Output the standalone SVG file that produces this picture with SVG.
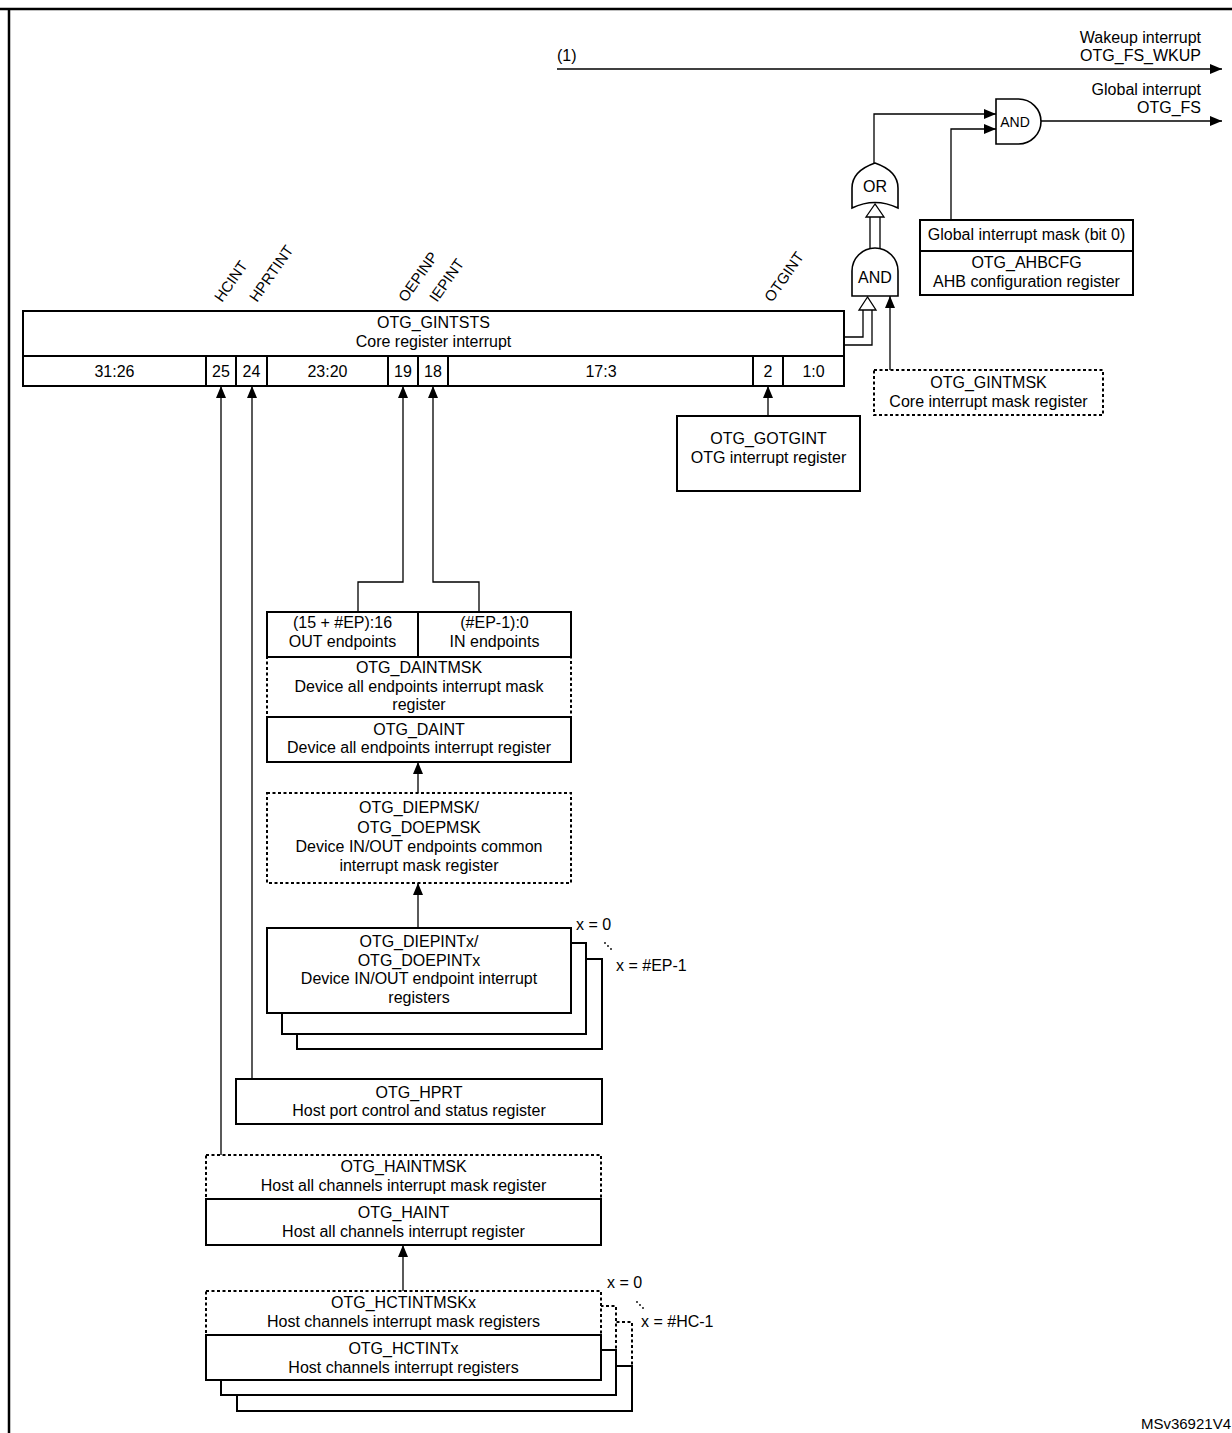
<svg xmlns="http://www.w3.org/2000/svg" width="1232" height="1433" viewBox="0 0 1232 1433">
<defs>
<marker id="ah" viewBox="0 0 12 10" refX="12" refY="5" markerWidth="12" markerHeight="10" markerUnits="userSpaceOnUse" orient="auto"><path d="M0,0 L12,5 L0,10 Z" fill="#000"/></marker>
</defs>
<style>
text{font-family:"Liberation Sans",Arial,sans-serif;font-size:16px;fill:#000}
.c{text-anchor:middle}
.r{text-anchor:end}
.rot{font-size:15px}
.box{fill:#fff;stroke:#000;stroke-width:2}
.dash{fill:#fff;stroke:#000;stroke-width:2;stroke-dasharray:3 2.5}
.ln{fill:none;stroke:#000;stroke-width:1.3}
.arr{fill:none;stroke:#000;stroke-width:1.3;marker-end:url(#ah)}
.hol{fill:#fff;stroke:#000;stroke-width:1.3}
.gate{fill:#fff;stroke:#000;stroke-width:1.6}
</style>
<rect x="0" y="0" width="1232" height="1433" fill="#fff"/>
<path d="M0,9 H1232 M9,9 V1433" stroke="#000" stroke-width="2.5" fill="none"/>

<g id="connectors">
<path class="arr" d="M557,69 H1222"/>
<path class="arr" d="M1041,121 H1222"/>
<path class="arr" d="M874,163 V114 H996"/>
<path class="arr" d="M951,220 V129 H996"/>
<path class="arr" d="M890,370 V296"/>
<path class="arr" d="M768,416 V386"/>
<path class="arr" d="M221,1155 V386"/>
<path class="arr" d="M252,1079 V386"/>
<path class="arr" d="M358,612 V582 H403 V386"/>
<path class="arr" d="M479,612 V582 H433 V386"/>
<path class="arr" d="M418,793 V762"/>
<path class="arr" d="M418,928 V883"/>
<path class="arr" d="M403,1291 V1245"/>
<path class="ln" d="M844,337 H863 V310 M844,345 H872 V310"/>
<polygon class="hol" points="867.5,297 859,310 876,310"/>
<path class="ln" d="M870,248 V217 M880,248 V217"/>
<polygon class="hol" points="875,204 866,217 884,217"/>
</g>

<g id="wakeup-label">
<text x="557" y="61">(1)</text>
<text class="r" x="1201" y="43">Wakeup interrupt</text>
<text class="r" x="1201" y="61">OTG_FS_WKUP</text>
</g>
<g id="global-label">
<text class="r" x="1201" y="95">Global interrupt</text>
<text class="r" x="1201" y="113">OTG_FS</text>
</g>

<g id="and-top">
<path class="gate" d="M996,99 H1018.5 A22.5,22.5 0 0 1 1018.5,144 H996 Z"/>
<text class="c" x="1015" y="127" style="font-size:14px">AND</text>
</g>
<g id="or-gate">
<path class="gate" d="M852,208 V188 Q852,171 875,163 Q898,171 898,188 V208 Q875,197 852,208 Z"/>
<text class="c" x="875" y="192">OR</text>
</g>
<g id="and-low">
<path class="gate" d="M852,296 V271 A23,23 0 0 1 898,271 V296 Z"/>
<text class="c" x="875" y="283">AND</text>
</g>

<g id="ahbcfg">
<rect class="box" x="920" y="220" width="213" height="75"/>
<line x1="920" y1="251" x2="1133" y2="251" stroke="#000" stroke-width="2"/>
<text class="c" x="1026.5" y="240">Global interrupt mask (bit 0)</text>
<text class="c" x="1026.5" y="268">OTG_AHBCFG</text>
<text class="c" x="1026.5" y="287">AHB configuration register</text>
</g>

<g id="gintmsk">
<rect class="dash" x="874" y="370" width="229" height="45"/>
<text class="c" x="988.5" y="388">OTG_GINTMSK</text>
<text class="c" x="988.5" y="407">Core interrupt mask register</text>
</g>

<g id="gintsts">
<rect class="box" x="23" y="311" width="821" height="75"/>
<path d="M23,356 H844 M206,356 V386 M236,356 V386 M267,356 V386 M388,356 V386 M418,356 V386 M448,356 V386 M753,356 V386 M783,356 V386" stroke="#000" stroke-width="2" fill="none"/>
<text class="c" x="433.5" y="328">OTG_GINTSTS</text>
<text class="c" x="433.5" y="347">Core register interrupt</text>
<text class="c" x="114.5" y="377">31:26</text>
<text class="c" x="221" y="377">25</text>
<text class="c" x="251.5" y="377">24</text>
<text class="c" x="327.5" y="377">23:20</text>
<text class="c" x="403" y="377">19</text>
<text class="c" x="433" y="377">18</text>
<text class="c" x="601" y="377">17:3</text>
<text class="c" x="768" y="377">2</text>
<text class="c" x="813.5" y="377">1:0</text>
</g>

<g id="bit-labels">
<text class="rot" transform="translate(222,303) rotate(-55)">HCINT</text>
<text class="rot" transform="translate(257,303) rotate(-55)">HPRTINT</text>
<text class="rot" transform="translate(406,303) rotate(-55)">OEPINP</text>
<text class="rot" transform="translate(437,303) rotate(-55)">IEPINT</text>
<text class="rot" transform="translate(772,303) rotate(-55)">OTGINT</text>
</g>

<g id="gotgint">
<rect class="box" x="677" y="416" width="183" height="75"/>
<text class="c" x="768.5" y="444">OTG_GOTGINT</text>
<text class="c" x="768.5" y="463">OTG interrupt register</text>
</g>

<g id="daint">
<rect class="dash" x="267" y="657" width="304" height="60"/>
<rect class="box" x="267" y="612" width="304" height="45"/>
<line x1="418" y1="612" x2="418" y2="657" stroke="#000" stroke-width="2"/>
<rect class="box" x="267" y="717" width="304" height="45"/>
<text class="c" x="342.5" y="628">(15 + #EP):16</text>
<text class="c" x="342.5" y="647">OUT endpoints</text>
<text class="c" x="494.5" y="628">(#EP-1):0</text>
<text class="c" x="494.5" y="647">IN endpoints</text>
<text class="c" x="419" y="673">OTG_DAINTMSK</text>
<text class="c" x="419" y="692">Device all endpoints interrupt mask</text>
<text class="c" x="419" y="710">register</text>
<text class="c" x="419" y="735">OTG_DAINT</text>
<text class="c" x="419" y="753">Device all endpoints interrupt register</text>
</g>

<g id="diepmsk">
<rect class="dash" x="267" y="793" width="304" height="90"/>
<text class="c" x="419" y="813">OTG_DIEPMSK/</text>
<text class="c" x="419" y="833">OTG_DOEPMSK</text>
<text class="c" x="419" y="852">Device IN/OUT endpoints common</text>
<text class="c" x="419" y="871">interrupt mask register</text>
</g>

<g id="diepint">
<rect class="box" x="297" y="959" width="305" height="90"/>
<rect class="box" x="282" y="943" width="304" height="91"/>
<rect class="box" x="267" y="928" width="304" height="85"/>
<text class="c" x="419" y="947">OTG_DIEPINTx/</text>
<text class="c" x="419" y="966">OTG_DOEPINTx</text>
<text class="c" x="419" y="984">Device IN/OUT endpoint interrupt</text>
<text class="c" x="419" y="1003">registers</text>
<text x="576" y="930">x = 0</text>
<circle cx="605" cy="943" r="0.9"/>
<circle cx="608" cy="946" r="0.9"/>
<circle cx="611" cy="949" r="0.9"/>
<text x="616" y="971">x = #EP-1</text>
</g>

<g id="hprt">
<rect class="box" x="236" y="1079" width="366" height="45"/>
<text class="c" x="419" y="1098">OTG_HPRT</text>
<text class="c" x="419" y="1116">Host port control and status register</text>
</g>

<g id="haint">
<rect class="dash" x="206" y="1155" width="395" height="44"/>
<rect class="box" x="206" y="1199" width="395" height="46"/>
<text class="c" x="403.5" y="1172">OTG_HAINTMSK</text>
<text class="c" x="403.5" y="1191">Host all channels interrupt mask register</text>
<text class="c" x="403.5" y="1218">OTG_HAINT</text>
<text class="c" x="403.5" y="1237">Host all channels interrupt register</text>
</g>

<g id="hctint">
<rect class="dash" x="237" y="1322" width="395" height="44"/>
<rect class="box" x="237" y="1366" width="395" height="45"/>
<rect class="dash" x="221" y="1306" width="395" height="44"/>
<rect class="box" x="221" y="1350" width="395" height="45"/>
<rect class="dash" x="206" y="1291" width="395" height="44"/>
<rect class="box" x="206" y="1335" width="395" height="45"/>
<text class="c" x="403.5" y="1308">OTG_HCTINTMSKx</text>
<text class="c" x="403.5" y="1327">Host channels interrupt mask registers</text>
<text class="c" x="403.5" y="1354">OTG_HCTINTx</text>
<text class="c" x="403.5" y="1373">Host channels interrupt registers</text>
<text x="607" y="1288">x = 0</text>
<circle cx="637" cy="1302" r="0.9"/>
<circle cx="640" cy="1305" r="0.9"/>
<circle cx="643" cy="1308" r="0.9"/>
<text x="641" y="1327">x = #HC-1</text>
</g>

<text class="r" x="1231" y="1429" style="font-size:15px">MSv36921V4</text>
</svg>
